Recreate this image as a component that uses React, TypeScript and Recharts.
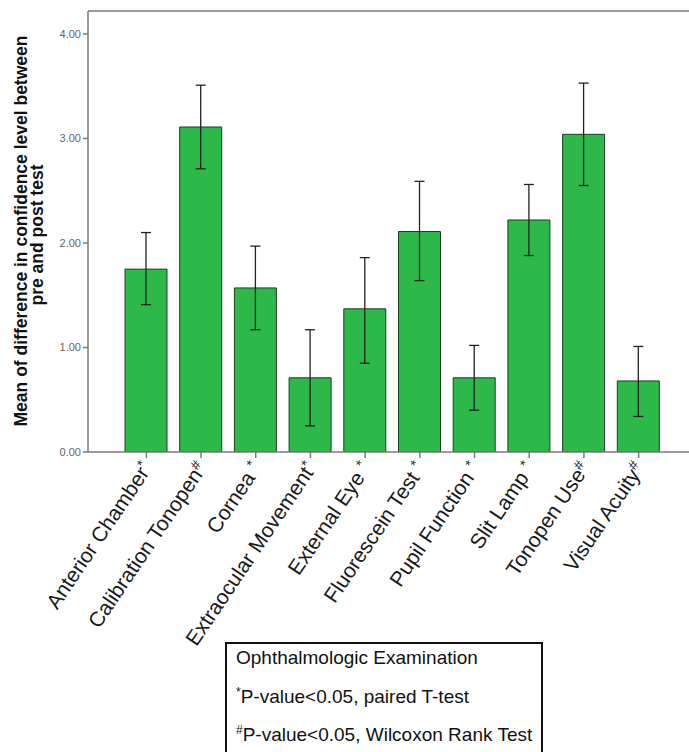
import React from 'react';
import { BarChart, Bar, XAxis, YAxis, ErrorBar, ReferenceLine } from 'recharts';

const categories = [
  'Anterior Chamber',
  'Calibration Tonopen',
  'Cornea ',
  'Extraocular Movement',
  'External Eye ',
  'Fluorescein Test ',
  'Pupil Function ',
  'Slit Lamp ',
  'Tonopen Use',
  'Visual Acuity',
];
const marks = ['*', '#', '*', '*', '*', '*', '*', '*', '#', '#'];
const means = [1.75, 3.11, 1.57, 0.71, 1.37, 2.11, 0.71, 2.22, 3.04, 0.68];
const ciLow = [1.41, 2.71, 1.17, 0.25, 0.85, 1.64, 0.4, 1.88, 2.55, 0.34];
const ciHigh = [2.1, 3.51, 1.97, 1.17, 1.86, 2.59, 1.02, 2.56, 3.53, 1.01];
const yTicks = [0, 1, 2, 3, 4];

const data = categories.map((name, i) => ({
  name,
  mark: marks[i],
  value: means[i],
  err: [means[i] - ciLow[i], ciHigh[i] - means[i]],
}));

const FONT = '"Liberation Sans", Arial, sans-serif';
const AXIS = '#7a7a7a';

const XTick = (props: any) => {
  const { x, y, index } = props;
  const d = data[index];
  return (
    <g transform={`translate(${x},${y + 4}) rotate(-56)`}>
      <text x={0} y={0} dy="0.38em" textAnchor="end" fontFamily={FONT} fontSize={21} fill="#1a1a1a">
        {d.name}
        <tspan fontSize={14} dy="-0.5em">{d.mark}</tspan>
      </text>
    </g>
  );
};

export default function App() {
  return (
    <div style={{ position: 'absolute', left: 0, top: 0, width: 689, height: 752, background: '#fff', overflow: 'hidden' }}>
      <BarChart
        width={689}
        height={752}
        data={data}
        margin={{ top: 11, right: 0, left: 0, bottom: 100 }}
        barSize={42}
      >
        <XAxis
          dataKey="name"
          height={200}
          interval={0}
          padding={{ left: 31, right: 23 }}
          stroke={AXIS}
          strokeWidth={1.5}
          tickSize={6}
          tick={<XTick />}
        />
        <YAxis
          width={88}
          domain={[0, 4.22]}
          ticks={yTicks}
          allowDataOverflow
          stroke={AXIS}
          strokeWidth={1.5}
          tickSize={5}
          tickFormatter={(v: number) => v.toFixed(2)}
          tick={{ fontSize: 11, fill: '#666', fontFamily: FONT }}
        />
        <ReferenceLine y={4.22} stroke={AXIS} strokeWidth={1.5} />
        <Bar dataKey="value" fill="#2db84a" stroke="#1f3d22" strokeWidth={1} isAnimationActive={false}>
          <ErrorBar dataKey="err" width={5} stroke="#222" strokeWidth={1.3} direction="y" />
        </Bar>
      </BarChart>
      <svg width={60} height={460} style={{ position: 'absolute', left: 0, top: 0 }}>
        <text fontFamily={FONT} fontWeight="bold" fontSize={17.5} fill="#111" textAnchor="middle" transform="rotate(-90)">
          <tspan x={-231} y={27}>Mean of difference in confidence level between</tspan>
          <tspan x={-235} y={43}>pre and post test</tspan>
        </text>
      </svg>
      <div
        style={{
          position: 'absolute',
          left: 225,
          top: 642,
          width: 318,
          height: 140,
          border: '2px solid #111',
          fontFamily: FONT,
          fontSize: 19,
          color: '#111',
          boxSizing: 'border-box',
        }}
      >
        <div style={{ position: 'absolute', top: 3, left: 9, whiteSpace: 'nowrap' }}>Ophthalmologic Examination</div>
        <div style={{ position: 'absolute', top: 41, left: 9, whiteSpace: 'nowrap' }}>
          <sup style={{ fontSize: 12 }}>*</sup>P-value&lt;0.05, paired T-test
        </div>
        <div style={{ position: 'absolute', top: 79, left: 9, whiteSpace: 'nowrap' }}>
          <sup style={{ fontSize: 12 }}>#</sup>P-value&lt;0.05, Wilcoxon Rank Test
        </div>
      </div>
    </div>
  );
}
